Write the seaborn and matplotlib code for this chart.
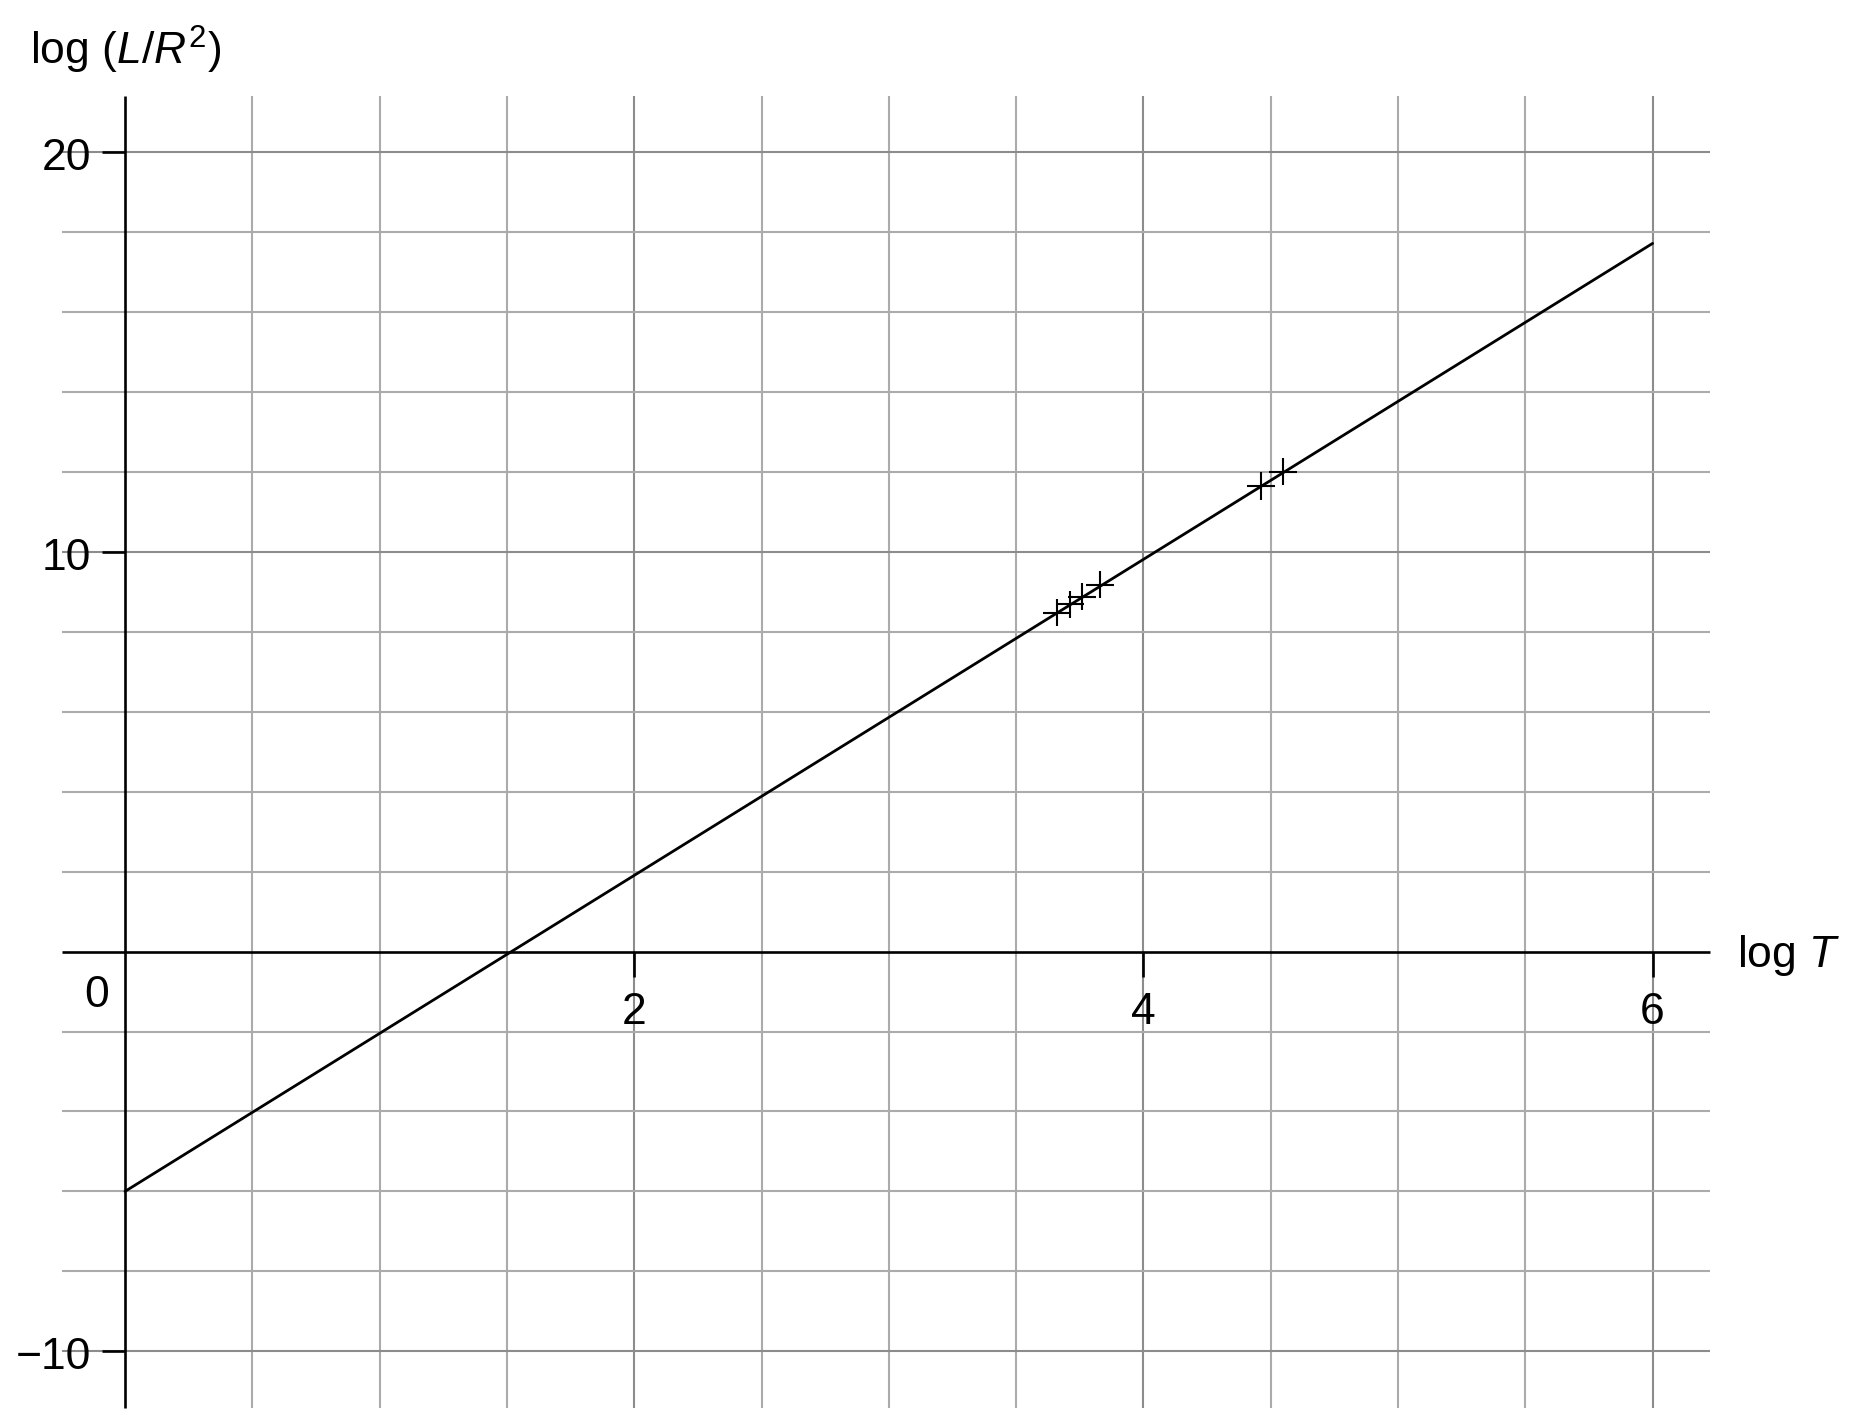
import numpy as np
import matplotlib
matplotlib.use("Agg")
import matplotlib.pyplot as plt
import seaborn as sns
import pandas as pd

# measured points (log T, log L/R^2) with their error crosses
log_t = [3.66, 3.71, 3.76, 3.83, 4.46, 4.55]
log_lr2 = [8.48, 8.69, 8.88, 9.18, 11.65, 12.01]
err_t = 0.055
err_lr2 = 0.34

# best fit line end points
fit_t = [0.0, 6.0]
fit_lr2 = [-6.0, 17.72]

x_ticks = [2, 4, 6]
y_ticks = [20, 10, -10]
y_tick_labels = ["20", "10", "\u221210"]

sns.set_theme(style="white")
plt.rcParams["font.family"] = ["Liberation Sans", "DejaVu Sans"]
plt.rcParams["text.color"] = "black"
plt.rcParams["mathtext.fontset"] = "custom"
plt.rcParams["mathtext.rm"] = "Liberation Sans"
plt.rcParams["mathtext.it"] = "Liberation Sans:italic"

fig = plt.figure(figsize=(18.55, 14.28), dpi=100)
ax = fig.add_axes([0, 0, 1, 1])
ax.set_xlim(-0.491, 6.795)
ax.set_ylim(-11.92, 23.81)
ax.axis("off")

fs = 32
minor_c = "#ababab"
major_c = "#8c8c8c"

# grid
x_lo, x_hi = -0.247, 6.225
y_lo, y_hi = -11.42, 21.42
for gx in np.arange(0.5, 6.01, 0.5):
    c = major_c if gx % 2 == 0 else minor_c
    ax.vlines(gx, y_lo, y_hi, color=c, lw=1.5, zorder=1)
for gy in np.arange(-10, 20.1, 2):
    if gy == 0:
        continue
    c = major_c if gy % 10 == 0 else minor_c
    ax.hlines(gy, x_lo, x_hi, color=c, lw=1.5, zorder=1)

# axes lines and ticks
ax.hlines(0, x_lo, x_hi, color="black", lw=1.9, zorder=2)
ax.vlines(0, y_lo, y_hi, color="black", lw=1.9, zorder=2)
for t in x_ticks:
    ax.vlines(t, -0.63, 0, color="black", lw=1.9, zorder=2)
    ax.text(t, -1.80, str(t), ha="center", va="baseline", fontsize=fs, color="black")
for t, lab in zip(y_ticks, y_tick_labels):
    ax.hlines(t, -0.09, 0, color="black", lw=1.9, zorder=2)
    ax.text(-0.134, t - 0.44, lab, ha="right", va="baseline", fontsize=fs, color="black")
ax.text(-0.11, -1.38, "0", ha="center", va="baseline", fontsize=fs, color="black")

# fit line and data crosses
fit = pd.DataFrame({"t": fit_t, "lr2": fit_lr2})
sns.lineplot(data=fit, x="t", y="lr2", color="black", lw=2.0, ax=ax, zorder=3)
ax.errorbar(log_t, log_lr2, xerr=err_t, yerr=err_lr2, fmt="none",
            ecolor="black", elinewidth=1.5, capsize=0, zorder=4)

# axis titles
ax.text(-0.373, 22.18, r"log ($L$/$R^2$)", ha="left", va="baseline", fontsize=fs, color="black")
ax.text(6.33, -0.38, r"log $T$", ha="left", va="baseline", fontsize=fs, color="black")

fig.savefig("out.png", dpi=100, facecolor="white")
